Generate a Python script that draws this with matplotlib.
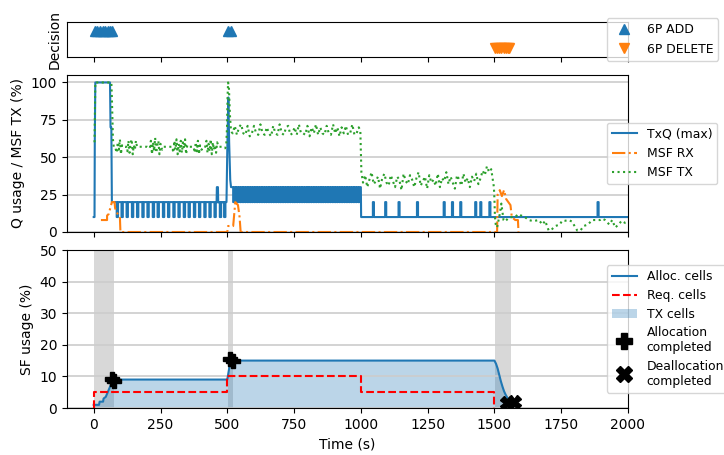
import matplotlib
matplotlib.use('Agg')
import matplotlib.pyplot as plt
from matplotlib.lines import Line2D
from matplotlib.patches import Patch

plt.rcParams['font.size'] = 10
plt.rcParams['legend.fontsize'] = 8.9

# --- Decision (6P events) ---
add_t = [5, 14, 24, 34, 44, 54, 62, 69, 504, 515]
delete_t = [1502, 1510, 1518, 1526, 1534, 1542, 1550, 1556]

# --- TxQ (max) ---
txq_head = [(0, 10), (3, 10), (4, 60), (6, 100), (61, 100), (63, 70), (66, 70), (68, 20), (84, 20)]
txq_dips_low = [86, 104, 123, 143, 162, 182, 201, 221, 239, 259, 278, 298, 317, 337,
                355, 375, 394, 414, 433, 452, 472, 488]   # 20 -> 10
txq_spike = [(460, 20), (461, 30), (465, 30), (466, 20), (497, 20),
             (500, 55), (504, 90), (507, 60), (511, 35), (514, 30)]
txq_dips_mid = [522, 531, 540, 548, 557, 566, 575, 584, 592, 601, 610, 619, 628, 637,
                645, 654, 663, 672, 681, 690, 698, 707, 716, 725, 734, 743, 751, 760,
                769, 778, 787, 796, 804, 813, 822, 831, 840, 849, 857, 866, 875, 884,
                893, 902, 910, 919, 928, 937, 946, 955, 963, 972, 981, 990]   # 30 -> 20
txq_peaks_high = [1045, 1091, 1141, 1210, 1310, 1341, 1372, 1428, 1447, 1481, 1886]  # 10 -> 20

# --- MSF RX ---
rx_pts = [(27, 8), (50, 8), (50, 11), (56, 12), (62, 16), (68, 20), (78, 20), (80, 16),
          (84, 14), (90, 12), (98, 10), (100, 0), (500, 0), (503, 4), (522, 4), (526, 12),
          (530, 20), (540, 18), (546, 10), (550, 0), (1510, 0), (1512, 25), (1520, 28),
          (1528, 24), (1536, 28), (1544, 22), (1552, 20), (1560, 18), (1565, 10),
          (1578, 8), (1588, 8), (1590, 0)]

# --- MSF TX ---
tx_head = [(3, 60), (6, 100), (66, 100), (68, 90), (70, 75), (72, 62), (75, 57)]
tx_low = [(80, 57), (86, 53), (90, 60), (94, 55), (98, 62), (102, 52), (106, 58), (110, 57),
          (122, 57), (126, 54), (130, 61), (134, 53), (138, 59), (142, 62), (146, 52),
          (150, 58), (154, 55), (158, 61), (162, 57), (180, 57), (200, 57), (210, 56),
          (214, 61), (218, 52), (222, 60), (226, 54), (230, 63), (234, 53), (238, 58),
          (242, 61), (246, 52), (250, 59), (256, 55), (262, 57), (285, 57), (294, 57),
          (298, 53), (302, 61), (306, 55), (310, 62), (314, 52), (318, 59), (322, 54),
          (326, 61), (330, 53), (334, 60), (338, 56), (342, 62), (346, 52), (350, 58),
          (356, 57), (374, 57), (378, 53), (382, 60), (386, 54), (390, 61), (394, 52),
          (398, 58), (404, 55), (410, 57), (418, 57), (422, 61), (426, 53), (430, 59),
          (434, 54), (438, 62), (442, 52), (446, 60), (450, 55), (454, 58), (458, 53),
          (462, 60), (468, 57), (480, 57), (492, 56), (496, 58), (499, 70), (501, 90),
          (503, 100), (506, 97), (508, 88), (510, 78), (513, 70), (516, 67)]
tx_mid_t = [520, 528, 536, 544, 552, 560, 568, 576, 584, 592,
            600, 608, 616, 624, 632, 640, 648, 656, 664, 672,
            680, 688, 696, 704, 712, 720, 728, 736, 744, 752,
            760, 768, 776, 784, 792, 800, 808, 816, 824, 832,
            840, 848, 856, 864, 872, 880, 888, 896, 904, 912,
            920, 928, 936, 944, 952, 960, 968, 976, 984, 992]
tx_mid_v = [66, 71, 65, 70, 72, 66, 65, 71, 64, 66,
            71, 66, 65, 72, 66, 65, 70, 66, 64, 71,
            66, 65, 72, 66, 65, 70, 71, 65, 66, 70,
            65, 72, 66, 66, 65, 71, 64, 70, 66, 72,
            65, 70, 66, 65, 71, 66, 65, 72, 66, 70,
            64, 70, 66, 71, 65, 66, 72, 65, 66, 70]
tx_high_t = [1008, 1016, 1024, 1032, 1040, 1048, 1056, 1064, 1072, 1080,
             1088, 1096, 1104, 1112, 1120, 1128, 1136, 1144, 1152, 1160,
             1168, 1176, 1184, 1192, 1200, 1208, 1216, 1224, 1232, 1240,
             1248, 1256, 1264, 1272, 1280, 1288, 1296, 1304, 1312, 1320,
             1328, 1336, 1344, 1352, 1360, 1368, 1376, 1384, 1392, 1400,
             1408, 1416, 1424, 1432, 1440, 1448, 1456, 1464, 1472, 1480]
tx_high_v = [33, 38, 30, 35, 40, 32, 34, 37, 29, 36,
             39, 33, 31, 38, 34, 30, 37, 35, 28, 39,
             34, 32, 38, 35, 30, 36, 40, 31, 34, 37,
             29, 38, 33, 35, 31, 39, 30, 36, 34, 40,
             32, 37, 33, 29, 38, 35, 31, 39, 33, 36,
             30, 37, 34, 39, 32, 36, 41, 38, 44, 40]
tx_tail = [(1488, 42), (1494, 35), (1498, 30), (1500, 22), (1502, 10), (1505, 5),
           (1510, 3), (1520, 12), (1526, 19), (1534, 8), (1540, 7), (1553, 9.5),
           (1565, 10), (1577, 10), (1590, 12), (1600, 11), (1614, 10), (1628, 8),
           (1640, 7.5), (1652, 7.5), (1666, 8), (1680, 5), (1690, 7.5), (1703, 1),
           (1716, 2), (1728, 4), (1745, 5), (1753, 7.5), (1764, 7.5), (1778, 8),
           (1790, 7), (1810, 1), (1822, 1), (1834, 4), (1850, 5), (1866, 8), (1880, 8),
           (1895, 8), (1903, 9), (1914, 8), (1930, 5), (1941, 8), (1952, 3), (1965, 5),
           (1976, 7.5), (1990, 6), (2000, 6)]

# --- SF usage ---
alloc_t = [0, 20, 22, 35, 37, 45, 50, 55, 60, 65, 70, 75, 80, 500, 504, 508, 512, 516,
           1500, 1506, 1512, 1518, 1524, 1530, 1536, 1542, 1548, 1554, 1560, 1566]
alloc_v = [1, 1, 2, 2, 3, 3.5, 4.5, 5.5, 6.5, 7.5, 8.5, 9, 9, 9, 11, 13, 14.5, 15,
           15, 14, 12.5, 10.5, 8.5, 6.8, 5.3, 4.2, 3.3, 2.7, 2.2, 2]
req_t = [0, 0, 500, 1000, 1500, 1500]
req_v = [0, 5, 10, 5, 5, 0]
alloc_done_t = [70, 77, 512, 520]
alloc_done_v = [9.3, 8.5, 15.5, 14.8]
dealloc_done_t = [1547, 1572]
dealloc_done_v = [1.5, 2]
busy_spans = [(0, 75), (502, 520), (1502, 1561)]


def pulses(times, base, peak, width):
    pts = []
    for t0 in times:
        pts += [(t0, base), (t0, peak), (t0 + width, peak), (t0 + width, base)]
    return pts


txq_pts = (txq_head + pulses(txq_dips_low, 20, 10, 5) + txq_spike
           + pulses(txq_dips_mid, 30, 20, 4) + [(1000, 30), (1001, 10)]
           + pulses(txq_peaks_high, 10, 20, 4) + [(2000, 10)])
txq_t, txq_v = zip(*txq_pts)
rx_t, rx_v = zip(*rx_pts)
tx_pts = tx_head + tx_low + list(zip(tx_mid_t, tx_mid_v)) + [(998, 68), (1000, 55), (1002, 40)] \
    + list(zip(tx_high_t, tx_high_v)) + tx_tail
tx_t, tx_v = zip(*tx_pts)

fig = plt.figure(figsize=(7.24, 4.55), dpi=100)
L, W = 67 / 724, 561 / 724
ax0 = fig.add_axes([L, 1 - 57 / 455, W, 35 / 455])
ax1 = fig.add_axes([L, 1 - 232 / 455, W, 157 / 455])
ax2 = fig.add_axes([L, 1 - 408 / 455, W, 158 / 455])

ticks = [0, 250, 500, 750, 1000, 1250, 1500, 1750, 2000]
for ax in (ax0, ax1, ax2):
    ax.set_xlim(-100, 2000)
    ax.set_xticks(ticks)
anchor = (540 / 561, 0.5)

# top: decisions
ax0.plot(add_t, [1] * len(add_t), '^', color='C0', ms=7, ls='none', label='6P ADD')
ax0.plot(delete_t, [0] * len(delete_t), 'v', color='C1', ms=7, ls='none', label='6P DELETE')
ax0.set_ylim(-0.5, 1.5)
ax0.set_yticks([])
ax0.set_xticklabels([])
ax0.set_ylabel('Decision')
ax0.legend(loc='center left', bbox_to_anchor=anchor, borderaxespad=0)

# middle: queue / MSF
ax1.plot(txq_t, txq_v, '-', color='C0', lw=1.5, label='TxQ (max)')
ax1.plot(rx_t, rx_v, '-.', color='C1', lw=1.5, label='MSF RX')
ax1.plot(tx_t, tx_v, ':', color='C2', lw=1.5, label='MSF TX')
ax1.set_ylim(0, 105)
ax1.set_yticks([0, 25, 50, 75, 100])
ax1.set_xticklabels([])
ax1.yaxis.grid(True, color='0.8', lw=1.2)
ax1.set_ylabel('Q usage / MSF TX (%)')
ax1.legend(loc='center left', bbox_to_anchor=anchor, borderaxespad=0)

# bottom: SF usage
for a, b in busy_spans:
    ax2.axvspan(a, b, color='gray', alpha=0.3, lw=0)
ax2.fill_between(alloc_t, alloc_v, 0, color='C0', alpha=0.3, lw=0)
ax2.plot(alloc_t, alloc_v, '-', color='C0', lw=1.5)
ax2.plot(req_t, req_v, '--', color='red', lw=1.5, drawstyle='steps-post')
ax2.plot(alloc_done_t, alloc_done_v, 'P', color='black', ms=10, ls='none', zorder=5)
ax2.plot(dealloc_done_t, dealloc_done_v, 'X', color='black', ms=10, ls='none', zorder=5)
ax2.set_ylim(0, 50)
ax2.set_yticks([0, 10, 20, 30, 40, 50])
ax2.yaxis.grid(True, color='0.8', lw=1.2)
ax2.set_ylabel('SF usage (%)')
ax2.set_xlabel('Time (s)')
handles = [Line2D([], [], color='C0', lw=1.5),
           Line2D([], [], color='red', ls='--', lw=1.5),
           Patch(color='C0', alpha=0.3, lw=0),
           Line2D([], [], marker='P', color='black', ms=11, ls='none'),
           Line2D([], [], marker='X', color='black', ms=11, ls='none')]
labels = ['Alloc. cells', 'Req. cells', 'TX cells', 'Allocation\ncompleted',
          'Deallocation\ncompleted']
ax2.legend(handles, labels, loc='center left', bbox_to_anchor=anchor, borderaxespad=0,
           labelspacing=0.45)

fig.savefig('out.png', dpi=100)
